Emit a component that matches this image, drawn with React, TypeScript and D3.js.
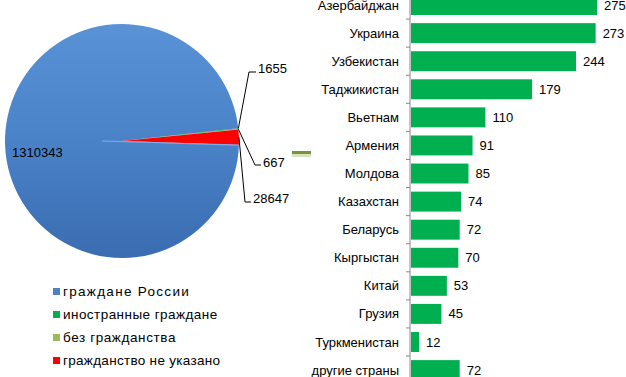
import React from "react";
import * as d3 from "d3";

const pieLabels = ["граждане России", "иностранные граждане", "без гражданства", "гражданство не указано"];
const pieValues = [1310343, 1655, 667, 28647];
const pieColors = ["#4F81BD", "#00B050", "#9BBB59", "#FF0000"];

const countries = [
  "Азербайджан", "Украина", "Узбекистан", "Таджикистан", "Вьетнам", "Армения", "Молдова",
  "Казахстан", "Беларусь", "Кыргыстан", "Китай", "Грузия", "Туркменистан", "другие страны",
];
const counts = [275, 273, 244, 179, 110, 91, 85, 74, 72, 70, 53, 45, 12, 72];

const FONT = "'Liberation Sans', Arial, sans-serif";

export default function App() {
  const W = 626, H = 377;
  const cx = 122, cy = 141, r = 117;
  const start = (92 * Math.PI) / 180;
  const pie = d3.pie<number>().sort(null).startAngle(start).endAngle(start + 2 * Math.PI);
  const arcs = pie(pieValues);
  const arcGen = d3.arc<d3.PieArcDatum<number>>().innerRadius(0).outerRadius(r);

  const pt = (a: number, rr: number) => [cx + rr * Math.sin(a), cy - rr * Math.cos(a)];

  // leader label layout: [elbow x, elbow y, text x, text baseline]
  const leaders: Record<number, [number, number, number, number]> = {
    1: [249, 72, 258, 73],
    2: [255, 165, 263, 167],
    3: [245, 202, 253, 203],
  };
  const legendSpacing = [1.3, 0.45, 0.6, 0.3];

  const x = d3.scaleLinear().domain([0, 275]).range([411, 597]);
  const y = d3.scaleBand<string>().domain(countries).range([-9, -9 + 14 * 28.08]).paddingInner(0.29).paddingOuter(0.145);
  const step = y.step();
  const axisX = 410;

  return (
    <svg width={W} height={H} style={{ position: "absolute", left: 0, top: 0, background: "#fff" }} fontFamily={FONT}>
      <defs>
        <linearGradient id="pieBlue" x1="0" y1="0" x2="0" y2="1">
          <stop offset="0" stopColor="#5A92D6" />
          <stop offset="0.5" stopColor="#4A82C8" />
          <stop offset="1" stopColor="#3A6CB0" />
        </linearGradient>
      </defs>
      <g transform={`translate(${cx},${cy})`}>
        {arcs.map((a, i) => (
          <path key={i} d={arcGen(a) || ""} fill={i === 0 ? "url(#pieBlue)" : pieColors[i]} />
        ))}
        <line x1={-20} y1={0} x2={r * Math.sin(start)} y2={-r * Math.cos(start)} stroke="#7FAEE6" strokeWidth={1.2} />
      </g>
      <text x={12} y={157} fontSize={13} fill="#000">{pieValues[0]}</text>
      {arcs.slice(1).map((a, k) => {
        const i = k + 1;
        const mid = (a.startAngle + a.endAngle) / 2;
        const [px, py] = pt(mid, r);
        const [ex, ey, tx, ty] = leaders[i];
        return (
          <g key={i}>
            <polyline points={`${px},${py} ${ex},${ey} ${tx - 2},${ey}`} fill="none" stroke="#000" strokeWidth={1} />
            <text x={tx} y={ty} fontSize={13} fill="#000">{pieValues[i]}</text>
          </g>
        );
      })}
      <rect x={292} y={151} width={19} height={3} fill="#77933C" />
      <rect x={292} y={154} width={19} height={3} fill="#D7E4BD" />

      {pieLabels.map((l, i) => (
        <g key={l}>
          <rect x={53} y={288 + i * 23} width={7} height={7} fill={pieColors[i]} />
          <text x={63} y={296 + i * 23} fontSize={13.5} letterSpacing={legendSpacing[i]} fill="#000">{l}</text>
        </g>
      ))}

      <line x1={axisX} y1={0} x2={axisX} y2={H} stroke="#888" strokeWidth={1} />
      {countries.map((c, i) => (
        <line key={"t" + i} x1={axisX - 4} x2={axisX} y1={(y(c) as number) + y.bandwidth() + (step - y.bandwidth()) / 2} y2={(y(c) as number) + y.bandwidth() + (step - y.bandwidth()) / 2} stroke="#888" />
      ))}
      {countries.map((c, i) => {
        const by = y(c) as number;
        const bh = y.bandwidth();
        return (
          <g key={c}>
            <rect x={x(0)} y={by} width={x(counts[i]) - x(0)} height={bh} fill="#00B050" />
            <text x={399} y={by + bh / 2} dy="0.35em" textAnchor="end" fontSize={13} fill="#000">{c}</text>
            <text x={x(counts[i]) + 7} y={by + bh / 2} dy="0.35em" fontSize={13} fill="#000">{counts[i]}</text>
          </g>
        );
      })}
    </svg>
  );
}
